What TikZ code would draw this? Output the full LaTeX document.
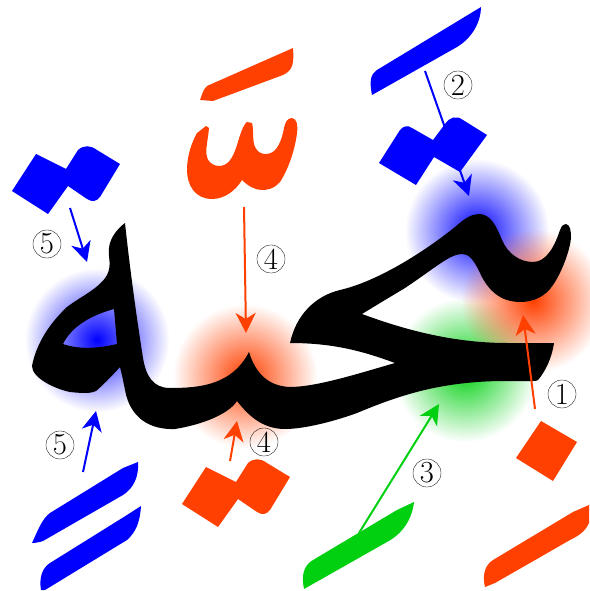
\documentclass[tikz,border=0pt]{standalone}
\usepackage{tikz}
\usetikzlibrary{arrows.meta,fadings}
\definecolor{NqRed}{RGB}{255,64,0}
\definecolor{NqBlue}{RGB}{0,0,255}
\definecolor{NqGreen}{RGB}{0,208,16}
\tikzfading[name=glowfade,inner color=transparent!0,outer color=transparent!100]
\begin{document}
\begin{tikzpicture}[x=0.75pt,y=-0.75pt,>={Stealth[length=15pt,width=15pt,inset=4.5pt]},
  glow/.style={path fading=glowfade},
  lead/.style={->,line width=1.5pt},
  numlabel/.style={circle,draw,line width=0.25pt,minimum size=21pt,inner sep=0pt,font=\fontsize{23}{26}\selectfont}]
\useasboundingbox (0,0) rectangle (589,591);
\coordinate (gb1) at (97,340);\coordinate (gb2) at (477,231);\coordinate (gr1) at (245,376);
\coordinate (gr2) at (533,301);\coordinate (gg) at (465,370);
\fill[glow,NqBlue] (gb1) circle (72);\fill[glow,NqBlue] (gb2) circle (72);
\fill[glow,NqGreen] (gg) circle (72);
\fill[glow,NqRed] (gr1) circle (72);\fill[glow,NqRed] (gr2) circle (72);
\fill[black,even odd rule] (125,223) .. controls (130,270) and (137,320) .. (143,358) .. controls (146,376) and (153,388) .. (170,388)
  .. controls (200,388) and (232,385) .. (249,352) .. controls (256,375) and (270,387) .. (292,387) .. controls (320,386) and (360,373) .. (395,363)
  .. controls (365,352) and (335,343) .. (290,343) .. controls (296,315) and (315,296) .. (340,290) .. controls (375,282) and (420,255) .. (455,227)
  .. controls (465,218) and (472,214) .. (479,214) .. controls (490,214) and (496,225) .. (502,240) .. controls (508,254) and (520,262) .. (533,262)
  .. controls (547,262) and (555,245) .. (560,230) .. controls (562,225) and (564,224) .. (566,224) .. controls (570,225) and (571,230) .. (571,238)
  .. controls (570,250) and (562,272) .. (553,285) .. controls (545,297) and (533,302) .. (520,302) .. controls (505,302) and (490,295) .. (480,273)
  .. controls (473,258) and (468,254) .. (462,254) .. controls (450,254) and (435,268) .. (405,288) .. controls (390,297) and (375,306) .. (362,314)
  .. controls (400,328) and (450,343) .. (507,343) -- (554,343) .. controls (552,358) and (545,372) .. (538,380) .. controls (537,381) and (535,381) .. (533,381)
  -- (500,381) .. controls (440,382) and (400,395) .. (357,413) .. controls (335,421) and (305,429) .. (285,429) .. controls (262,429) and (248,415) .. (237,401)
  .. controls (228,415) and (200,425) .. (175,429) .. controls (150,430) and (130,418) .. (125,390) .. controls (123,380) and (122,375) .. (120,367)
  .. controls (110,378) and (102,386) .. (96,391) .. controls (90,394) and (80,393) .. (70,392) .. controls (55,389) and (32,378) .. (32,366)
  .. controls (36,345) and (48,325) .. (67,307) .. controls (80,297) and (100,288) .. (107,275) .. controls (112,265) and (108,258) .. (109,248)
  .. controls (110,238) and (117,229) .. (125,223) -- cycle
  (114,309) -- (117,344) .. controls (100,348) and (80,350) .. (63,344) .. controls (70,330) and (85,317) .. (114,309) -- cycle;
\fill[NqRed] (293,48) -- (207,86) .. controls (203,90) and (203,92) .. (200,100) -- (213,101) -- (283,75) .. controls (293,70) and (294,64) .. cycle;
\fill[NqRed] (206,126) -- (209,128) .. controls (208,140) and (205,150) .. (207,157) .. controls (209,164) and (215,166) .. (219,166)
  .. controls (228,166) and (233,158) .. (237,145) .. controls (240,135) and (243,125) .. (247,122) -- (252,123) .. controls (254,130) and (252,140) .. (255,147)
  .. controls (258,153) and (262,154) .. (266,154) .. controls (275,154) and (280,145) .. (283,133) .. controls (285,122) and (287,118) .. (292,118)
  .. controls (297,119) and (298,125) .. (297,133) .. controls (295,150) and (288,170) .. (280,182) .. controls (273,190) and (265,190) .. (262,190)
  .. controls (255,190) and (248,186) .. (242,180) .. controls (236,190) and (225,199) .. (212,199) .. controls (195,199) and (187,185) .. (187,170)
  .. controls (187,155) and (192,142) .. (197,133) -- cycle;
\fill[NqBlue] (12,191) -- (36,154) -- (66,169) -- (78,150) .. controls (84,145) and (90,145) .. (97,150) -- (120,164) -- (100,197) .. controls (96,202) and (92,202) .. (87,199) -- (68,186) -- (48,214) -- cycle;
\fill[NqRed] (182,504) -- (206,467) -- (236,482) -- (248,463) .. controls (254,458) and (260,458) .. (267,463) -- (290,477) -- (270,510) .. controls (266,515) and (262,515) .. (257,512) -- (238,499) -- (218,527) -- cycle;
\fill[NqBlue] (379,163) -- (400,130) .. controls (403,126) and (408,125) .. (412,128) -- (433,140) -- (445,124) .. controls (450,117) and (456,115) .. (463,120) -- (487,135) -- (460,172) -- (434,157) -- (416,185) -- cycle;
\fill[NqRed] (541,421) -- (577,442) -- (553,481) -- (516,458) -- cycle;
\fill[NqBlue] (481,7) -- (377,70) .. controls (371,74) and (369,80) .. (372,95) -- (457,47) .. controls (472,38) and (481,22) .. cycle;
\fill[NqBlue] (138,462) -- (123,468) -- (50,513) .. controls (42,519) and (38,530) .. (32,543) .. controls (36,543) and (40,542) .. (43,541) -- (123,495) .. controls (134,488) and (139,476) .. cycle;
\fill[NqBlue] (141,506) -- (127,515) -- (50,563) .. controls (42,568) and (39,578) .. (41,590) -- (45,590) -- (127,540) .. controls (136,532) and (140,522) .. cycle;
\fill[NqGreen] (414,502) -- (397,510) -- (313,560) .. controls (304,565) and (301,575) .. (304,589) -- (387,542) .. controls (402,534) and (412,520) .. cycle;
\fill[NqRed] (589,505) -- (573,512) -- (493,560) .. controls (485,565) and (482,575) .. (485,587) -- (495,583) -- (570,540) .. controls (578,536) and (585,532) .. (589,523) -- cycle;
\coordinate (as1) at (70,208);\coordinate (ae1) at (87,262);
\coordinate (as2) at (244,207);\coordinate (ae2) at (246,333);
\coordinate (as3) at (83,472);\coordinate (ae3) at (96,411);
\coordinate (as4) at (230,461);\coordinate (ae4) at (237,421);
\coordinate (as5) at (425,71);\coordinate (ae5) at (469,196);
\coordinate (as6) at (535,409);\coordinate (ae6) at (523,315);
\coordinate (as7) at (359,533);\coordinate (ae7) at (439,404);
\draw[lead,NqBlue] (as1)--(ae1);\draw[lead,NqRed] (as2)--(ae2);
\draw[lead,NqBlue] (as3)--(ae3);\draw[lead,NqRed] (as4)--(ae4);
\draw[lead,NqBlue] (as5)--(ae5);\draw[lead,NqRed] (as6)--(ae6);
\draw[lead,NqGreen] (as7)--(ae7);
\node[numlabel] (n1) at (562,394) {1};\node[numlabel] (n2) at (458,85) {2};
\node[numlabel] (n3) at (427,473) {3};\node[numlabel] (n4a) at (271,259) {4};
\node[numlabel] (n4b) at (264,442) {4};\node[numlabel] (n5a) at (47,244) {5};
\node[numlabel] (n5b) at (60,445) {5};
\end{tikzpicture}
\end{document}
